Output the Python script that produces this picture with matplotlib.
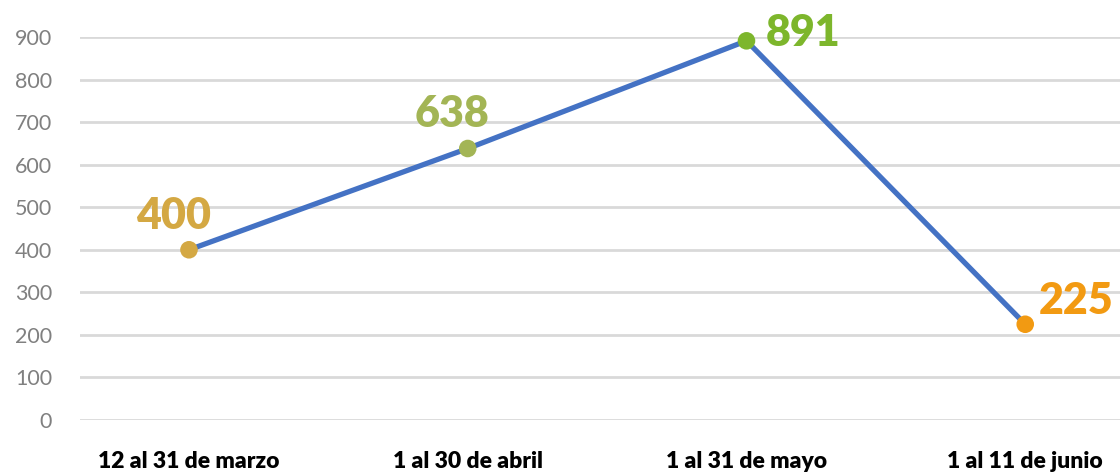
import matplotlib.pyplot as plt

# Datos
periodos = ['12 al 31 de marzo', '1 al 30 de abril', '1 al 31 de mayo', '1 al 11 de junio']
valores = [400, 638, 891, 225]
colores_puntos = ['#D4A843', '#A3B555', '#7DB62C', '#F29A12']
yticks = [0, 100, 200, 300, 400, 500, 600, 700, 800, 900]

plt.rcParams['font.family'] = ['Lato', 'DejaVu Sans']

fig = plt.figure(figsize=(11.2, 4.75), dpi=100)
ax = fig.add_axes([80 / 1120, 55 / 475, 1040 / 1120, 383 / 475])

x = list(range(len(periodos)))
ax.plot(x, valores, color='#4472C4', linewidth=3.8, zorder=3, clip_on=False)
ax.scatter(x, valores, s=160, c=colores_puntos, zorder=4, linewidths=0, clip_on=False)

# Etiquetas de datos (desplazamiento en pixeles)
offsets = [(-15, 34, 'center'), (-16, 34, 'center'), (19, 8, 'left'), (14, 23, 'left')]
for xi, v, c, (dx, dy, ha) in zip(x, valores, colores_puntos, offsets):
    ax.annotate(str(v), (xi, v), xytext=(dx * 0.72, dy * 0.72), textcoords='offset points',
                ha=ha, va='center', fontsize=31, fontweight='heavy', color=c, zorder=5,
                annotation_clip=False)

ax.set_xlim(-0.391, 3.34)
ax.set_ylim(0, 900)
ax.set_yticks(yticks)
ax.set_xticks(x)
ax.set_xticklabels(periodos, fontsize=16.5, fontweight='heavy', color='black')
ax.tick_params(axis='y', labelsize=15.5, labelcolor='#808080', length=0, pad=20)
ax.tick_params(axis='x', length=0, pad=22)

ax.grid(axis='y', color='#D9D9D9', linewidth=2)
ax.set_axisbelow(True)
for s in ax.spines.values():
    s.set_visible(False)

plt.savefig('out.png', dpi=100)
